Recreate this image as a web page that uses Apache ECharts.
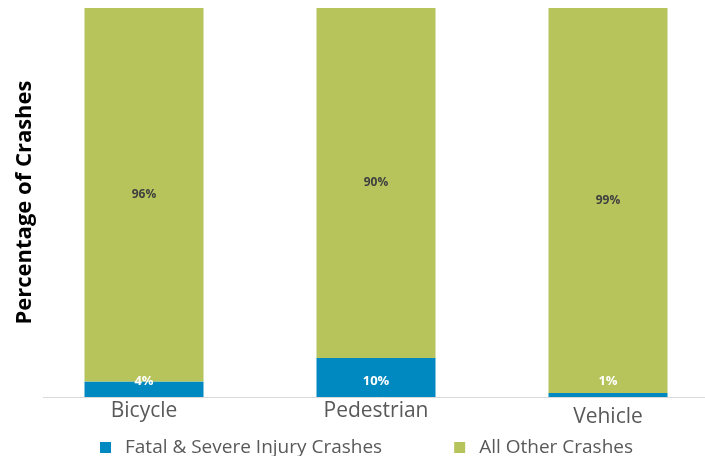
<!DOCTYPE html>
<html>
<head>
<meta charset="utf-8">
<script src="https://cdn.jsdelivr.net/npm/echarts@6/dist/echarts.min.js"></script>
<style>
  html, body { margin: 0; padding: 0; background: #fff; overflow: hidden; }
  #chart { width: 724px; height: 456px; }
</style>
</head>
<body>
<div id="chart"></div>
<script>
const categories = ["Bicycle", "Pedestrian", "Vehicle"];
const fatalSevere = [4, 10, 1];
const allOther = [96, 90, 99];

const chart = echarts.init(document.getElementById("chart"));

chart.setOption({
  animation: false,
  textStyle: { fontFamily: "Open Sans" },
  // plot runs past the right edge of the 705px window, like the cropped original
  grid: { left: 28, right: 0, top: 8, bottom: 59 },
  legend: {
    top: 433,
    left: 95,
    itemWidth: 11,
    itemHeight: 11,
    itemGap: 72,
    icon: "rect",
    textStyle: { fontSize: 19, color: "#595959", padding: [0, 0, 0, 9] },
    data: ["Fatal & Severe Injury Crashes", "All Other Crashes"],
  },
  xAxis: {
    type: "category",
    // the last label sits a little lower in the original
    data: categories.map((c, i) =>
      i === 2 ? { value: c, textStyle: { padding: [6, 0, 0, 0] } } : c
    ),
    axisLine: { show: false },
    axisTick: { show: false },
    axisLabel: { fontSize: 21, color: "#595959", margin: 4 },
  },
  yAxis: {
    type: "value",
    min: 0,
    max: 100,
    axisLine: { show: false },
    axisTick: { show: false },
    axisLabel: { show: false },
    splitLine: { show: false },
    name: "Percentage of Crashes",
    nameLocation: "middle",
    nameRotate: 90,
    nameGap: -8,
    nameTextStyle: { fontSize: 22, fontWeight: "bold", color: "#000" },
  },
  graphic: [
    {
      type: "line",
      shape: { x1: 43, y1: 397.5, x2: 724, y2: 397.5 },
      style: { stroke: "#d9d9d9", lineWidth: 1 },
      z: 100,
    },
  ],
  series: [
    {
      name: "Fatal & Severe Injury Crashes",
      type: "bar",
      stack: "all",
      barWidth: 119,
      data: fatalSevere,
      itemStyle: { color: "#0089C0" },
      label: {
        show: true,
        position: "insideBottom",
        distance: 9,
        formatter: "{c}%",
        color: "#fff",
        fontWeight: "bold",
        fontSize: 13,
      },
    },
    {
      name: "All Other Crashes",
      type: "bar",
      stack: "all",
      barWidth: 119,
      data: allOther,
      itemStyle: { color: "#B7C45B" },
      label: {
        show: true,
        position: "inside",
        formatter: "{c}%",
        color: "#404040",
        fontWeight: "bold",
        fontSize: 12,
      },
    },
  ],
});

window.addEventListener("resize", () => chart.resize());
</script>
</body>
</html>
